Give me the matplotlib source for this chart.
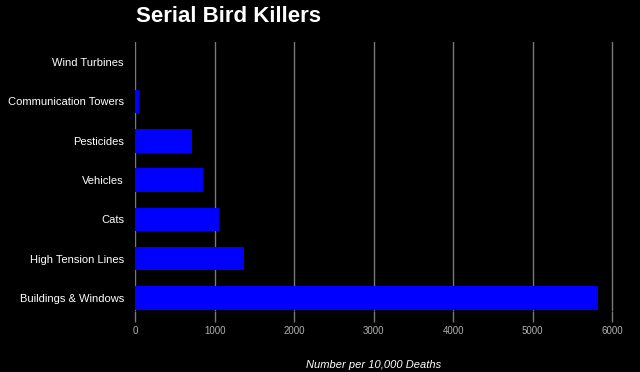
import matplotlib
matplotlib.use("Agg")
import matplotlib.pyplot as plt

# data (per 10,000 deaths)
causes = ["Buildings & Windows", "High Tension Lines", "Cats", "Vehicles",
          "Pesticides", "Communication Towers", "Wind Turbines"]
deaths = [5820, 1370, 1060, 850, 710, 50, 0.3]
x_ticks = [0, 1000, 2000, 3000, 4000, 5000, 6000]

plt.rcParams['font.family'] = ['Liberation Sans', 'DejaVu Sans']

fig = plt.figure(figsize=(6.4, 3.72), dpi=100, facecolor="black")
ax = fig.add_axes([0.211, 0.164, 0.758, 0.723], facecolor="black")

pos = list(range(len(causes)))
ax.barh(pos, deaths, height=0.6, color="#0000ff", zorder=3)

ax.set_xlim(0, 6100)
ax.set_ylim(-0.33, 6.51)
ax.set_xticks(x_ticks)
ax.set_yticks(pos)
ax.set_yticklabels(causes)

ax.grid(axis="x", color="#7a7a7a", linewidth=1, zorder=0)
for s in ax.spines.values():
    s.set_visible(False)

ax.tick_params(axis="y", length=0, pad=8, labelcolor="white", labelsize=8)
ax.tick_params(axis="x", length=8, width=1, color="#7a7a7a", pad=3,
               labelcolor="#b0b0b0", labelsize=7)

fig.text(136 / 640, 1 - 16 / 372, "Serial Bird Killers", color="white",
         fontsize=16, fontweight="bold", ha="left", va="center")
fig.text((135 + 612) / 2 / 640, 1 - 365 / 372, "Number per 10,000 Deaths",
         color="white", fontsize=8, style="italic", ha="center", va="center")

fig.savefig("out.png", dpi=100, facecolor="black")
